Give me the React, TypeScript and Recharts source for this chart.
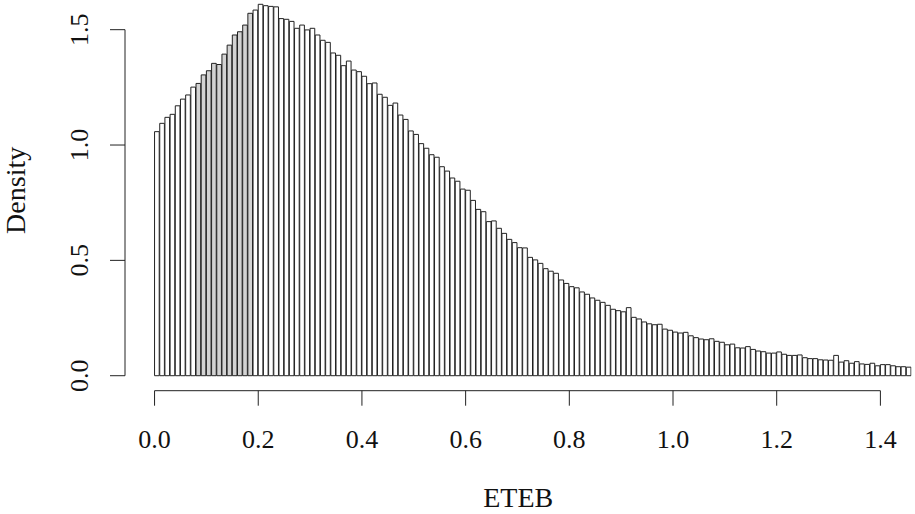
import React from 'react';
import { BarChart, Bar, XAxis, YAxis, Cell, ReferenceLine } from 'recharts';

// histogram of ETEB, bins of 0.01 starting at 0
const BIN_WIDTH = 0.01;

const density = [
  1.058, 1.094, 1.120, 1.133, 1.170, 1.199, 1.217, 1.251, 1.267, 1.304,
  1.322, 1.354, 1.349, 1.394, 1.433, 1.477, 1.491, 1.520, 1.571, 1.585,
  1.610, 1.604, 1.601, 1.599, 1.548, 1.545, 1.536, 1.506, 1.520, 1.499,
  1.506, 1.477, 1.454, 1.445, 1.399, 1.389, 1.344, 1.364, 1.325, 1.318,
  1.298, 1.266, 1.269, 1.220, 1.207, 1.172, 1.182, 1.130, 1.111, 1.061,
  1.046, 1.006, 0.986, 0.958, 0.947, 0.906, 0.887, 0.857, 0.843, 0.809,
  0.804, 0.760, 0.721, 0.711, 0.668, 0.671, 0.639, 0.617, 0.591, 0.577,
  0.555, 0.554, 0.513, 0.502, 0.487, 0.464, 0.453, 0.444, 0.415, 0.400,
  0.386, 0.381, 0.363, 0.353, 0.337, 0.327, 0.318, 0.305, 0.288, 0.282,
  0.277, 0.295, 0.253, 0.246, 0.233, 0.225, 0.221, 0.223, 0.202, 0.197,
  0.189, 0.185, 0.188, 0.173, 0.165, 0.159, 0.156, 0.160, 0.149, 0.145,
  0.134, 0.137, 0.121, 0.120, 0.126, 0.114, 0.107, 0.104, 0.098, 0.098,
  0.103, 0.093, 0.088, 0.088, 0.090, 0.078, 0.074, 0.074, 0.069, 0.068,
  0.067, 0.088, 0.059, 0.065, 0.054, 0.061, 0.051, 0.049, 0.054, 0.043,
  0.048, 0.048, 0.043, 0.039, 0.039, 0.037,
];

// shaded interval
const shadeFrom = 0.08;
const shadeTo = 0.19;

const xTicks = [0, 0.2, 0.4, 0.6, 0.8, 1.0, 1.2, 1.4];
const yTicks = [0, 0.5, 1.0, 1.5];

const data = density.map((d, i) => ({
  start: Number((i * BIN_WIDTH).toFixed(2)),
  mid: Number(((i + 0.5) * BIN_WIDTH).toFixed(3)),
  density: d,
}));

const W = 915;
const H = 514;
const FONT = '"Liberation Serif", "Times New Roman", serif';
const X_MIN = -0.057; // detached y axis sits left of 0
const X_MAX = Number((density.length * BIN_WIDTH).toFixed(2));
const Y_MIN = -0.065; // detached x axis sits below 0
const Y_MAX = 1.62;
const MARGIN = { top: 2, right: 3.5, left: 0, bottom: 1 };
const Y_AXIS_W = 125;
const X_AXIS_H = 122.3;
const LINE = '#222';

const plotW = W - MARGIN.left - MARGIN.right - Y_AXIS_W;
const barPx = (plotW / (X_MAX - X_MIN)) * BIN_WIDTH;

function XTick({ x, y, payload }: any) {
  return (
    <text x={x} y={y + 40} textAnchor="middle" fontFamily={FONT} fontSize={26} fill="#111">
      {Number(payload.value).toFixed(1)}
    </text>
  );
}

function YTick({ x, y, payload }: any) {
  const bx = x - 20;
  return (
    <text
      x={bx}
      y={y}
      transform={`rotate(-90, ${bx}, ${y})`}
      textAnchor="middle"
      fontFamily={FONT}
      fontSize={26}
      fill="#111"
    >
      {Number(payload.value).toFixed(1)}
    </text>
  );
}

export default function App() {
  return (
    <div style={{ position: 'absolute', left: 0, top: 0, width: W, height: H, background: '#fff' }}>
      <BarChart
        width={W}
        height={H}
        data={data}
        margin={MARGIN}
        barCategoryGap={0}
        barGap={0}
      >
        <XAxis
          dataKey="mid"
          type="number"
          domain={[X_MIN, X_MAX]}
          allowDataOverflow
          ticks={xTicks}
          interval={0}
          axisLine={false}
          tickLine={{ stroke: LINE }}
          tickSize={15}
          tick={<XTick />}
          height={X_AXIS_H}
          label={{
            content: ({ viewBox }: any) => (
              <text
                x={viewBox.x + viewBox.width / 2}
                y={viewBox.y + viewBox.height - 6}
                textAnchor="middle"
                fontFamily={FONT}
                fontSize={28}
                fill="#111"
              >
                ETEB
              </text>
            ),
          }}
        />
        <YAxis
          type="number"
          domain={[Y_MIN, Y_MAX]}
          allowDataOverflow
          ticks={yTicks}
          interval={0}
          width={Y_AXIS_W}
          axisLine={false}
          tickLine={{ stroke: LINE }}
          tickSize={15}
          tick={<YTick />}
          label={{
            content: ({ viewBox }: any) => {
              const lx = viewBox.x + 25;
              const ly = viewBox.y + viewBox.height / 2 - 6;
              return (
                <text
                  x={lx}
                  y={ly}
                  transform={`rotate(-90, ${lx}, ${ly})`}
                  textAnchor="middle"
                  fontFamily={FONT}
                  fontSize={28}
                  fill="#111"
                >
                  Density
                </text>
              );
            },
          }}
        />
        <Bar
          dataKey="density"
          stroke={LINE}
          strokeWidth={1}
          barSize={barPx}
          isAnimationActive={false}
        >
          {data.map((entry, index) => (
            <Cell
              key={`cell-${index}`}
              fill={entry.start >= shadeFrom - 1e-9 && entry.start < shadeTo - 1e-9 ? '#d3d3d3' : '#ffffff'}
            />
          ))}
        </Bar>
        <ReferenceLine
          segment={[{ x: 0, y: Y_MIN }, { x: xTicks[xTicks.length - 1], y: Y_MIN }]}
          stroke={LINE}
          ifOverflow="visible"
        />
        <ReferenceLine
          segment={[{ x: X_MIN, y: yTicks[0] }, { x: X_MIN, y: yTicks[yTicks.length - 1] }]}
          stroke={LINE}
          ifOverflow="visible"
        />
      </BarChart>
    </div>
  );
}
